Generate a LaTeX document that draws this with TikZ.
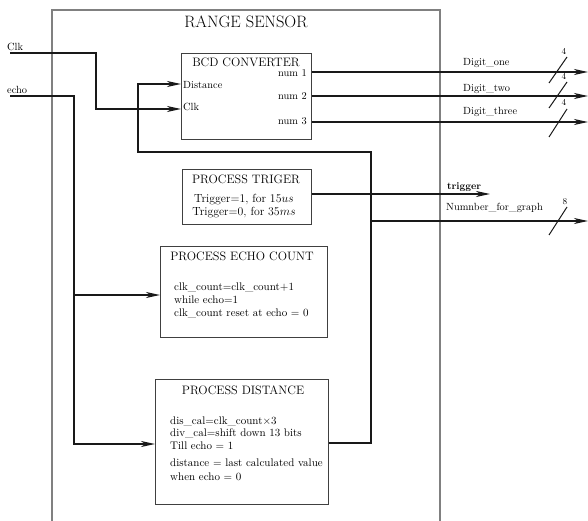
\documentclass[tikz,border=0pt]{standalone}
\usepackage{fontspec}
\setmainfont{Latin Modern Roman}
\usetikzlibrary{arrows.meta}
\begin{document}
\begin{tikzpicture}[x=1pt,y=-1pt,
  wire/.style={line width=1.5pt, black!90},
  arr/.style={wire,-{Stealth[length=14pt,width=6pt,inset=4pt]}},
  blk/.style={draw=black!75, line width=1pt, rectangle, anchor=north west, inner sep=0},
  ttl/.style={font=\fontsize{12.2}{14}\selectfont, inner sep=0},
  txt/.style={font=\fontsize{11}{12}\selectfont, inner sep=0, anchor=west},
  lbl/.style={font=\fontsize{10.4}{12}\selectfont, inner sep=0},
  bw/.style={font=\fontsize{9}{10}\selectfont, inner sep=0},
  slashline/.style={line width=1pt, black!90},
]
\useasboundingbox (0,0) rectangle (588,521);

% outer frame
\draw[black!50, line width=1.2pt] (52,521) -- (52,10) -- (440,10) -- (440,521);
\node[inner sep=0, font=\fontsize{16.5}{19}\selectfont] (title) at (246,22) {RANGE SENSOR};

% blocks
\node[blk, minimum width=130pt, minimum height=86pt] (bcd) at (181,53) {};
\node[blk, minimum width=129pt, minimum height=55pt] (trg) at (182,169) {};
\node[blk, minimum width=167pt, minimum height=91pt] (ech) at (160,246) {};
\node[blk, minimum width=173pt, minimum height=125pt] (dst) at (155,379) {};

% block texts
\node[ttl] (bcdt) at (246,62) {BCD CONVERTER};
\node[lbl, anchor=east] (n1) at (307,73) {num 1};
\node[lbl, anchor=east] (n2) at (307,96) {num 2};
\node[lbl, anchor=east] (n3) at (307,121) {num 3};
\node[lbl, anchor=west] (bdist) at (183,85) {Distance};
\node[lbl, anchor=west] (bclk) at (183,107) {Clk};

\node[ttl] (trgt) at (246,179) {PROCESS TRIGER};
\node[txt, anchor=center, font=\fontsize{11.8}{13}\selectfont] (trg1) at (244,200) {Trigger=1, for 15$us$};
\node[txt, anchor=center, font=\fontsize{11.8}{13}\selectfont] (trg2) at (244,213) {Trigger=0, for 35$ms$};

\node[ttl] (echt) at (242,256) {PROCESS ECHO COUNT};
\node[txt] (ech1) at (174,287) {clk\_count=clk\_count+1};
\node[txt] (ech2) at (174,300) {while echo=1};
\node[txt] (ech3) at (174,313) {clk\_count reset at echo = 0};

\node[ttl] (dstt) at (243,390) {PROCESS DISTANCE};
\node[txt] (d1) at (170,421) {dis\_cal=clk\_count$\times$3};
\node[txt] (d2) at (170,433) {div\_cal=shift down 13 bits};
\node[txt] (d3) at (170,446) {Till echo = 1};
\node[txt] (d4) at (170,463) {distance = last calculated value};
\node[txt] (d5) at (170,477) {when echo = 0};

% inputs
\coordinate (clkin) at (10,53);
\coordinate (echoin) at (10,96);
\node[lbl, anchor=west] (clkl) at (7,47) {Clk};
\node[lbl, anchor=west] (echol) at (7,90) {echo};

\draw[arr] (clkin) -- (96,53) -- (96,109) -- (bcd.west |- 0,109);
\draw[arr] (echoin) -- (74,96) -- (74,444) -- (dst.west |- 0,444);
\draw[arr] (74,295) -- (ech.west |- 0,295);

% feedback from distance
\draw[arr] (dst.east |- 0,443) -- (371,443) -- (371,152) -- (138,152) -- (138,84) -- (bcd.west |- 0,84);

% outputs
\coordinate (o1) at (588,72);
\coordinate (o2) at (588,96);
\coordinate (o3) at (588,122);
\coordinate (ot) at (490,194);
\coordinate (og) at (588,221);
\draw[arr] (bcd.east |- o1) -- (o1);
\draw[arr] (bcd.east |- o2) -- (o2);
\draw[arr] (bcd.east |- o3) -- (o3);
\draw[arr] (trg.east |- ot) -- (ot);
\draw[arr] (371,221) -- (og);

\node[lbl, anchor=west] (l1) at (463,63) {Digit\_one};
\node[lbl, anchor=west] (l2) at (463,89) {Digit\_two};
\node[lbl, anchor=west] (l3) at (463,112) {Digit\_three};
\node[lbl, anchor=west, font=\fontsize{10}{11}\selectfont\bfseries] (lt) at (447,187) {trigger};
\node[lbl, anchor=west] (lg) at (446,208) {Numnber\_for\_graph};

% bus slashes
\draw[slashline] (549,83) -- (567,57);
\draw[slashline] (549,108) -- (567,82);
\draw[slashline] (549,137) -- (567,109);
\draw[slashline] (549,235) -- (567,207);
\node[bw] (w1) at (564,51) {4};
\node[bw] (w2) at (564,76) {4};
\node[bw] (w3) at (564,102) {4};
\node[bw] (w4) at (565,202) {8};
\end{tikzpicture}
\end{document}
